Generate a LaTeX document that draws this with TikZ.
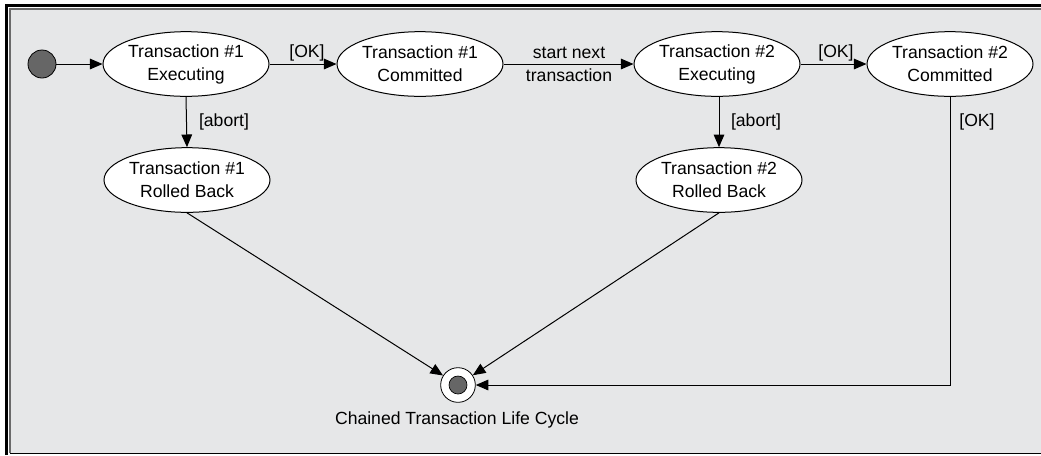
\documentclass[tikz,border=0pt]{standalone}
\usepackage{fontspec}
\setmainfont{Liberation Sans}
\usetikzlibrary{shapes.geometric,arrows.meta}
\definecolor{bgray}{HTML}{E6E7E8}
\definecolor{dotgray}{HTML}{666666}
\definecolor{framegray}{HTML}{6A6A6A}
\begin{document}
\begin{tikzpicture}[x=0.75pt,y=-0.75pt,
  font=\fontsize{13.2}{17.2}\selectfont,
  state/.style={ellipse,draw=black,fill=white,line width=0.75pt,minimum width=124.5pt,minimum height=48.5pt,inner sep=0pt,align=center},
  conn/.style={line width=0.75pt,-{Triangle[length=9.5pt,width=8pt]}},
  lbl/.style={inner sep=0pt,align=center}]
\useasboundingbox (0,0) rectangle (1041,455);
\fill[white] (0,0) rectangle (1041,455);
\fill[bgray] (10,9) rectangle (1041,453);
\draw[framegray,line width=1.2pt] (10,453) -- (10,9) -- (1041,9);
\draw[black,line width=2.4pt] (6.5,455) -- (6.5,5.5) -- (1041,5.5);
\draw[black,line width=1.4pt] (10,453.5) -- (1041,453.5);

\node[circle,draw=black,fill=dotgray,line width=0.6pt,minimum size=21pt,inner sep=0pt] (init) at (42,64) {};
\node[state] (e1) at (186,64) {Transaction \#1\\Executing};
\node[state] (c1) at (420,64) {Transaction \#1\\Committed};
\node[state] (e2) at (717,64) {Transaction \#2\\Executing};
\node[state] (c2) at (950,64) {Transaction \#2\\Committed};
\node[state] (r1) at (187,180) {Transaction \#1\\Rolled Back};
\node[state] (r2) at (719,180) {Transaction \#2\\Rolled Back};
\node[circle,draw=black,fill=white,line width=0.6pt,minimum size=26pt,inner sep=0pt] (final) at (458,385) {};
\node[circle,draw=black,fill=dotgray,line width=0.5pt,minimum size=13.5pt,inner sep=0pt] (finaldot) at (458,385) {};
\coordinate (corner) at (950,385);

\draw[conn] (init) -- (e1);
\draw[conn] (e1) -- (c1);
\draw[conn] (c1) -- (e2);
\draw[conn] (e2) -- (c2);
\draw[conn] (e1.south) -- (r1.north);
\draw[conn] (e2.south -| r2.north) -- (r2.north);
\draw[conn] (r1.south) -- (final);
\draw[conn] (r2.south) -- (final);
\draw[conn] (c2.south) -- (corner) -- (final);

\node[lbl] (ok1) at (307,53) {[OK]};
\node[lbl] (snt) at (569,64) {start next\\transaction};
\node[lbl] (ok2) at (836,53) {[OK]};
\node[lbl] (ab1) at (224,122) {[abort]};
\node[lbl] (ab2) at (756,122) {[abort]};
\node[lbl] (ok3) at (977,122) {[OK]};
\node[lbl] (cap) at (457,420) {Chained Transaction Life Cycle};
\end{tikzpicture}
\end{document}
